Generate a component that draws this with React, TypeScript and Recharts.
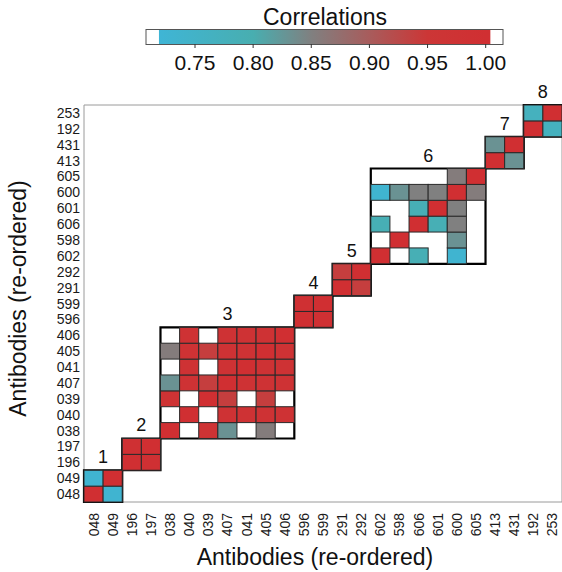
import { ScatterChart, Scatter, XAxis, YAxis, ReferenceArea } from 'recharts';

// antibodies in the re-ordered sequence (bottom-to-top / left-to-right)
const antibodies = [
    '048', '049', '196', '197', '038', '040', '039', '407', '041', '405', '406',
    '596', '599', '291', '292', '602', '598', '606', '601', '600', '605',
    '413', '431', '192', '253',
];

// clusters: label, index of first antibody, correlation block (row order = index order)
const clusterLabels = ['1', '2', '3', '4', '5', '6', '7', '8'];
const clusterStarts = [0, 2, 4, 11, 13, 15, 21, 23];

const cluster1 = [
    [1, 0.73],
    [0.73, 1],
];
const cluster2 = [
    [1, 0.99],
    [0.99, 1],
];
const cluster3 = [
    [1, null, 0.97, 0.83, null, 0.855, null],
    [null, 1, null, 0.98, 0.98, 0.98, 0.98],
    [0.97, null, 1, 0.94, null, 0.94, null],
    [0.83, 0.98, 0.94, 1, 0.98, 0.98, 0.98],
    [null, 0.98, null, 0.98, 1, 0.98, 0.98],
    [0.855, 0.98, 0.94, 0.98, 0.98, 1, 0.98],
    [null, 0.98, null, 0.98, 0.98, 0.98, 1],
];
const cluster4 = [
    [1, 0.99],
    [0.99, 1],
];
const cluster5 = [
    [1, 0.94],
    [0.94, 1],
];
const cluster6 = [
    [1, null, 0.79, null, 0.73, null],
    [null, 1, null, null, 0.83, null],
    [0.79, null, 1, 0.79, 0.85, null],
    [null, null, 0.79, 1, 0.85, null],
    [0.73, 0.83, 0.85, 0.85, 1, 0.855],
    [null, null, null, null, 0.855, 1],
];
const cluster7 = [
    [1, 0.83],
    [0.83, 1],
];
const cluster8 = [
    [1, 0.77],
    [0.77, 1],
];
const clusterBlocks: (number | null)[][][] = [
    cluster1, cluster2, cluster3, cluster4, cluster5, cluster6, cluster7, cluster8,
];

// colour bar
const legendTicks = [0.75, 0.8, 0.85, 0.9, 0.95, 1.0];
const legendMin = 0.719;
const legendMax = 1.004;

// value -> rgb stops of the cyan / grey / red scale
const colorStops: [number, number[]][] = [
    [0.72, [63, 181, 213]],
    [0.8, [72, 174, 176]],
    [0.85, [128, 128, 128]],
    [0.9, [168, 92, 92]],
    [0.95, [204, 54, 54]],
    [1.0, [208, 47, 50]],
];

function colorFor(v: number): string {
    if (v <= colorStops[0][0]) return `rgb(${colorStops[0][1].join(',')})`;
    for (let i = 1; i < colorStops.length; i++) {
        const [v1, c1] = colorStops[i];
        const [v0, c0] = colorStops[i - 1];
        if (v <= v1) {
            const t = (v - v0) / (v1 - v0);
            const c = c0.map((a, k) => Math.round(a + (c1[k] - a) * t));
            return `rgb(${c.join(',')})`;
        }
    }
    return `rgb(${colorStops[colorStops.length - 1][1].join(',')})`;
}

const W = 562;
const H = 572;
const PLOT_LEFT = 84;
const PLOT_TOP = 105;
const PLOT_BOTTOM = 502;
const N = antibodies.length;
const cellW = (W - PLOT_LEFT) / N;
const cellH = (PLOT_BOTTOM - PLOT_TOP) / N;
const FONT = '"Liberation Sans", Arial, sans-serif';

const cells = clusterBlocks.flatMap((block, c) =>
    block.flatMap((row, i) =>
        row
            .map((v, j) => ({ x: clusterStarts[c] + j + 0.5, y: clusterStarts[c] + i + 0.5, v }))
            .filter((d) => d.v !== null)
    )
);

const ticks = antibodies.map((_, i) => i + 0.5);

function CellShape(props: any) {
    const { cx, cy, payload } = props;
    return (
        <rect
            x={cx - cellW / 2}
            y={cy - cellH / 2}
            width={cellW}
            height={cellH}
            fill={colorFor(payload.v)}
            stroke="#2a2a2a"
            strokeWidth={1}
        />
    );
}

function XTick(props: any) {
    const { x, y, payload } = props;
    return (
        <text
            x={x}
            y={y}
            transform={`rotate(-90, ${x}, ${y})`}
            textAnchor="end"
            dominantBaseline="central"
            fontSize={14}
            fill="#1a1a1a"
            fontFamily={FONT}
        >
            {antibodies[Math.floor(payload.value)]}
        </text>
    );
}

function YTick(props: any) {
    const { x, y, payload } = props;
    return (
        <text x={x} y={y} textAnchor="end" dominantBaseline="central" fontSize={14} fill="#1a1a1a" fontFamily={FONT}>
            {antibodies[Math.floor(payload.value)]}
        </text>
    );
}

function ColorBar() {
    const slope = 58.14 / 0.05;
    const xOf = (v: number) => 195 + (v - 0.75) * slope;
    const range = legendMax - legendMin;
    return (
        <svg width={W} height={80} style={{ position: 'absolute', left: 0, top: 0 }}>
            <defs>
                <linearGradient id="corrGrad" x1="0" x2="1" y1="0" y2="0">
                    {colorStops.map(([v]) => (
                        <stop key={v} offset={(v - legendMin) / range} stopColor={colorFor(v)} />
                    ))}
                </linearGradient>
            </defs>
            <text x={325} y={25} textAnchor="middle" fontSize={23} fill="#111" fontFamily={FONT}>
                Correlations
            </text>
            <rect x={146} y={29.5} width={357} height={15} fill="#fff" stroke="#555" strokeWidth={1} />
            <rect x={xOf(legendMin)} y={30} width={xOf(legendMax) - xOf(legendMin)} height={14} fill="url(#corrGrad)" />
            {legendTicks.map((t) => (
                <g key={t}>
                    <line x1={xOf(t)} x2={xOf(t)} y1={44} y2={48} stroke="#333" strokeWidth={1} />
                    <text x={xOf(t)} y={70} textAnchor="middle" fontSize={21} fill="#111" fontFamily={FONT}>
                        {t.toFixed(2)}
                    </text>
                </g>
            ))}
        </svg>
    );
}

export default function App() {
    return (
        <div style={{ position: 'absolute', left: 0, top: 0, width: W, height: H, overflow: 'hidden', background: '#fff' }}>
            <ScatterChart width={W} height={H} margin={{ top: PLOT_TOP, right: 0, bottom: 0, left: 0 }}>
                <XAxis
                    type="number"
                    dataKey="x"
                    domain={[0, N]}
                    ticks={ticks}
                    interval={0}
                    axisLine={false}
                    tickLine={false}
                    tickSize={0}
                    tickMargin={11}
                    height={H - PLOT_BOTTOM}
                    tick={<XTick />}
                    label={{
                        value: 'Antibodies (re-ordered)',
                        position: 'insideBottom',
                        offset: 7,
                        dx: -8,
                        fontSize: 23,
                        fill: '#111',
                        fontFamily: FONT,
                    }}
                />
                <YAxis
                    type="number"
                    dataKey="y"
                    domain={[0, N]}
                    ticks={ticks}
                    interval={0}
                    axisLine={false}
                    tickLine={false}
                    tickSize={0}
                    tickMargin={4}
                    width={PLOT_LEFT}
                    tick={<YTick />}
                    label={{
                        value: 'Antibodies (re-ordered)',
                        angle: -90,
                        position: 'insideLeft',
                        offset: 18,
                        dy: -5,
                        fontSize: 23,
                        fill: '#111',
                        fontFamily: FONT,
                        style: { textAnchor: 'middle' },
                    }}
                />
                <ReferenceArea x1={0} x2={N} y1={0} y2={N} fill="none" stroke="#9a9a9a" strokeWidth={1} />
                <Scatter data={cells} shape={<CellShape />} isAnimationActive={false} />
                {clusterBlocks.map((block, c) => (
                    <ReferenceArea
                        key={c}
                        x1={clusterStarts[c]}
                        x2={clusterStarts[c] + block.length}
                        y1={clusterStarts[c]}
                        y2={clusterStarts[c] + block.length}
                        fill="none"
                        stroke="#000"
                        strokeWidth={2.2}
                        label={{
                            value: clusterLabels[c],
                            position: 'top',
                            offset: 7,
                            fontSize: 18,
                            fill: '#111',
                            fontFamily: FONT,
                        }}
                    />
                ))}
            </ScatterChart>
            <ColorBar />
        </div>
    );
}
